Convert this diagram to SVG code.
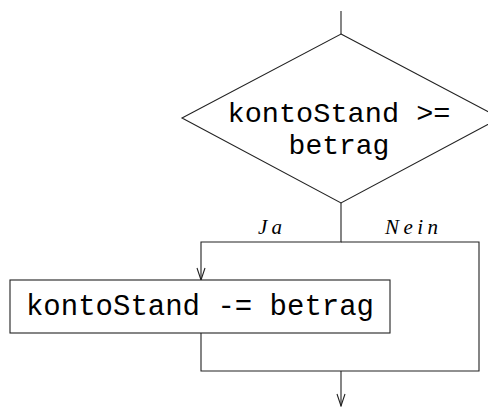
<svg xmlns="http://www.w3.org/2000/svg" width="488" height="407" viewBox="0 0 488 407">
  <style>
    .shape { fill: #ffffff; stroke: #222222; stroke-width: 1.1; }
    .wire { fill: none; stroke: #222222; stroke-width: 1.1; }
    .code { font-family: "Liberation Mono", "Courier New", monospace; font-size: 29px; fill: #000000; text-anchor: middle; }
    .cond { font-size: 28px; }
    .label { font-family: "Liberation Serif", "Times New Roman", serif; font-style: italic; font-size: 21px; fill: #000000; }
  </style>
  <defs>
    <marker id="vhead" viewBox="0 0 14 10" refX="13" refY="5" markerWidth="14" markerHeight="10" markerUnits="userSpaceOnUse" orient="auto">
      <path d="M1,1 L13,5 L1,9" fill="none" stroke="#222222" stroke-width="1.1"/>
    </marker>
  </defs>

  <rect width="488" height="407" fill="#ffffff"/>

  <!-- connectors -->
  <g id="connectors">
    <line class="wire" x1="341" y1="11" x2="341" y2="34"/>
    <path class="wire" d="M341,203 L341,242 L201,242 L201,280" marker-end="url(#vhead)"/>
    <path class="wire" d="M341,242 L479,242 L479,371 L201,371 L201,333"/>
    <line class="wire" x1="341" y1="371" x2="341" y2="406" marker-end="url(#vhead)"/>
    <text class="label" x="258" y="234" textLength="24" lengthAdjust="spacing">Ja</text>
    <text class="label" x="385" y="234" textLength="53" lengthAdjust="spacing">Nein</text>
  </g>

  <!-- decision -->
  <g id="decision">
    <polygon class="shape" points="341,34 500,118 341,203 182,118"/>
    <text class="code cond" x="339" y="122" textLength="223" lengthAdjust="spacingAndGlyphs">kontoStand &gt;=</text>
    <text class="code cond" x="339" y="154">betrag</text>
  </g>

  <!-- withdrawal step -->
  <g id="withdraw">
    <rect class="shape" x="10" y="280" width="380" height="53"/>
    <text class="code" x="200" y="315">kontoStand -= betrag</text>
  </g>
</svg>
